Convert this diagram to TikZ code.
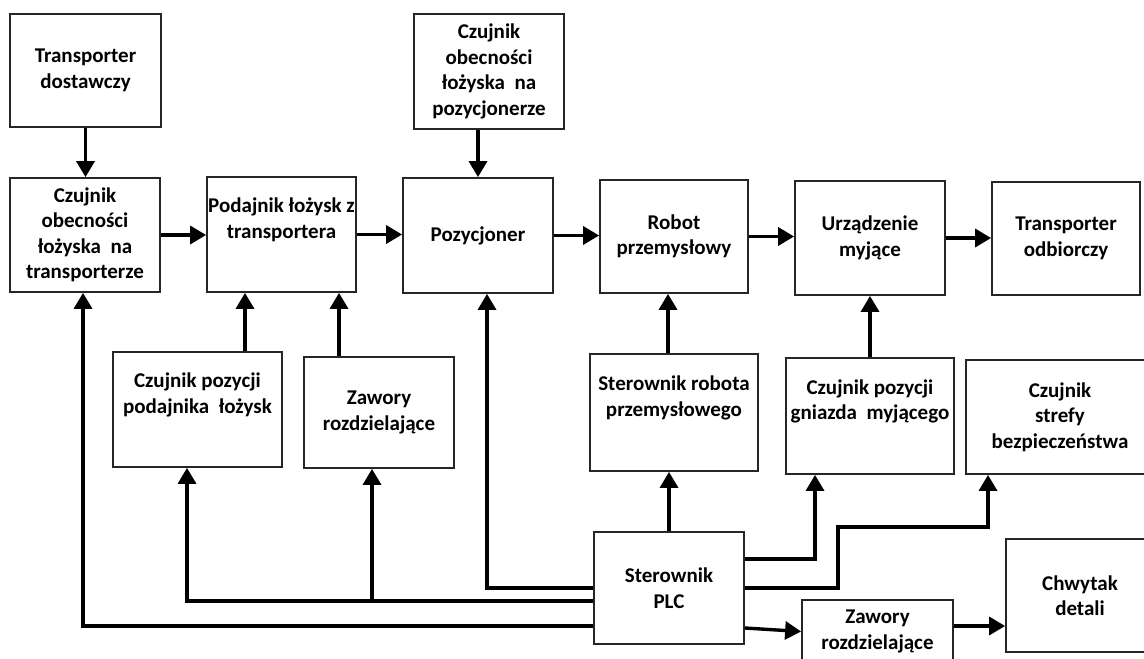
\documentclass[tikz,border=0pt]{standalone}
\usepackage{fontspec}
\setmainfont{Carlito}
\usetikzlibrary{arrows.meta,positioning}

\tikzset{
  blok/.style={draw=black!85, line width=1.8pt, minimum width=150pt,
    minimum height=114pt, align=center, inner sep=1pt,
    font=\bfseries\fontsize{21}{25.5}\selectfont},
  pol/.style={line width=3.4pt, -{Triangle[length=16pt,width=18pt]}}
}

\begin{document}
\begin{tikzpicture}[x=1pt,y=-1pt]
\useasboundingbox (0,0) rectangle (1144,659);

% gorny rzad
\node[blok, minimum width=151pt, minimum height=113pt] (td) at (85.5,70.5) {Transporter\\dostawczy};
\node[blok] (cot) at (85,235) {Czujnik\\obecności\\łożyska~ na\\transporterze};
\node[blok, minimum width=149pt, minimum height=115pt] (pod) at (281.5,234.5) {Podajnik łożysk z\\transportera\\\strut};
\node[blok, minimum height=115pt] (cop) at (489,71.5) {Czujnik\\obecności\\łożyska~ na\\pozycjonerze};
\node[blok, minimum height=115pt] (poz) at (478,235.5) {Pozycjoner};
\node[blok, minimum width=148pt, minimum height=113pt] (rob) at (674,236.5) {Robot\\przemysłowy};
\node[blok] (urz) at (870,238) {Urządzenie\\myjące};
\node[blok, minimum width=148pt, minimum height=113pt] (tod) at (1066,238.5) {Transporter\\odbiorczy};

% srodkowy rzad
\node[blok, minimum width=169pt, minimum height=115pt] (cpp) at (197.5,409.5) {Czujnik pozycji\\podajnika~ łożysk\\\strut};
\node[blok, minimum height=111pt] (zaw) at (379,412.5) {Zawory\\rozdzielające};
\node[blok, minimum width=168pt, minimum height=117pt] (str) at (674,412.5) {Sterownik robota\\przemysłowego\\\strut};
\node[blok, minimum width=168pt, minimum height=116pt] (cpg) at (870,416) {Czujnik pozycji\\gniazda~ myjącego\\\strut};
\node[blok, minimum width=188pt] (cs) at (1060,417) {Czujnik\\strefy\\bezpieczeństwa};

% dolny rzad
\node[blok, minimum height=112pt] (plc) at (669,588) {Sterownik\\PLC};
\node[blok, minimum width=151pt, minimum height=63pt] (zaw2) at (877.5,631.5) {Zawory\\rozdzielające};
\node[blok, minimum width=148pt, minimum height=113pt] (chw) at (1080,595.5) {Chwytak\\detali};

% punkty pomocnicze
\coordinate (k1) at (245,0);
\coordinate (k2) at (339,0);
\coordinate (k3) at (668,0);
\coordinate (k4) at (487,0);
\coordinate (k5) at (187,601);
\coordinate (k6) at (372,601);
\coordinate (k7) at (83,626);
\coordinate (k8) at (815,559);
\coordinate (k9) at (838,527);
\coordinate (k10) at (988,527);
\coordinate (k11) at (0,626);

% przeplyw
\draw[pol] (td.south) -- (td.south |- cot.north);
\draw[pol] (cot.east) -- (cot.east -| pod.west);
\draw[pol] (pod.east) -- (pod.east -| poz.west);
\draw[pol] (poz.east) -- (poz.east -| rob.west);
\draw[pol] (rob.east) -- (rob.east -| urz.west);
\draw[pol] (urz.east) -- (urz.east -| tod.west);
\draw[pol] (cop.south -| poz.north) -- (poz.north);

\draw[pol] (cpp.north -| k1) -- (pod.south -| k1);
\draw[pol] (zaw.north -| k2) -- (pod.south -| k2);
\draw[pol] (str.north -| k3) -- (rob.south -| k3);
\draw[pol] (cpg.north) -- (urz.south -| cpg.north);
\draw[pol] (plc.north) -- (str.south -| plc.north);

% wyjscia PLC
\draw[pol] (plc.west) -| (poz.south -| k4);
\draw[pol] (plc.west |- k5) -| (cpp.south -| k5);
\draw[pol] (k6) -- (zaw.south -| k6);
\draw[pol] (plc.west |- k7) -| (cot.south -| k7);
\draw[pol] (plc.east |- k8) -| (cpg.south -| k8);
\draw[pol] (plc.east) -| (k9) -| (cs.south -| k10);
\draw[pol] ([yshift=-40pt]plc.east) -- (zaw2.west);
\draw[pol] (zaw2.east |- k11) -- (chw.west |- k11);
\end{tikzpicture}
\end{document}
